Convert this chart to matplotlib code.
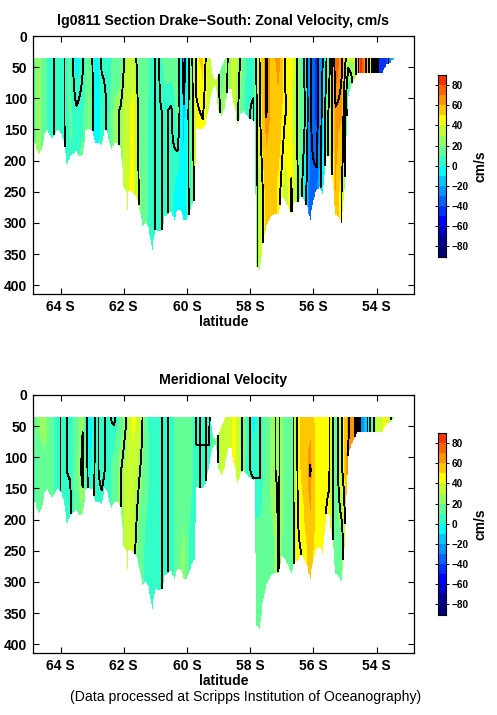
import numpy as np
import matplotlib
matplotlib.use("Agg")
import matplotlib.pyplot as plt
from matplotlib.colors import ListedColormap, BoundaryNorm

plt.rcParams['font.family'] = ['Liberation Sans', 'DejaVu Sans']

W, H = 497, 715

title_top = "lg0811 Section Drake\u2212South: Zonal Velocity, cm/s"
title_bottom = "Meridional Velocity"
footer = "(Data processed at Scripps Institution of Oceanography)"
x_ticks = [64, 62, 60, 58, 56, 54]
x_labels = ["64 S", "62 S", "60 S", "58 S", "56 S", "54 S"]
y_ticks = [0, 50, 100, 150, 200, 250, 300, 350, 400]
cb_ticks = [-80, -60, -40, -20, 0, 20, 40, 60, 80]
cb_labels = ["\u221280", "\u221260", "\u221240", "\u221220", "0", "20", "40", "60", "80"]

# bottom of the sampled section (depth, m) at every 0.1 degree
bottom_lat = np.round(np.linspace(64.9, 53.5, 115), 1)
bottom_depth = np.array([
    168, 173, 189, 184, 156, 151, 165, 160, 151, 154,
    167, 205, 194, 188, 185, 194, 191, 151, 149, 151,
    172, 170, 175, 149, 158, 183, 172, 170, 178, 242,
    253, 247, 253, 258, 279, 306, 298, 311, 343, 311,
    314, 311, 290, 285, 282, 295, 280, 279, 295, 295,
    279, 265, 147, 149, 149, 140, 112, 85, 80, 119,
    129, 113, 85, 85, 113, 141, 125, 120, 129, 132,
    137, 370, 375, 333, 306, 295, 287, 285, 285, 258,
    263, 274, 285, 267, 267, 256, 262, 274, 295, 263,
    247, 242, 256, 190, 193, 231, 287, 290, 303, 226,
    97, 80, 70, 58, 58, 58, 58, 58, 58, 58, 58, 58, 46, 44, 38], float)
# sharp steps in the bottom
step_lat = [59.73, 59.72, 57.83, 57.82]
step_depth = [265, 147, 137, 370]
# thin deep spikes
spike_lat = [64.77, 62.97, 61.88, 60.82]
spike_depth = [278, 205, 278, 345]
# notch of missing shallow data
notch_lat = [59.25, 59.2, 59.1, 59.0, 58.9, 58.8]
notch_top = [36, 60, 72, 62, 50, 36]
surface_depth = 36

# stations every 0.2 degree
station_lat = np.round(np.linspace(64.9, 53.5, 58), 1)
level_depth = [40, 120, 250]

zonal_40 = [16, 24, 14, 6, 4, 4, 12, -4, 4, 18,
            -6, 6, 6, 12, 14, 34, 34, 16, 14, 6,
            4, 14, 14, 12, -22, 12, 48, 52, 36, 34,
            14, 26, 34, 24, 6, 8, 46, 66, 56, 64,
            44, 44, 24, 4, -34, -42, -14, 20, 76, 66,
            30, 30, 86, 60, 10, -50, -44, -20]
zonal_120 = [14, 24, 14, 6, 4, 4, 12, 6, 8, 24,
             -6, 2, 6, 22, 26, 36, 44, 18, 12, 6,
             4, 6, 4, 14, -14, 12, 44, 46, 36, 34,
             22, 26, 36, 18, 6, 4, 44, 66, 56, 56,
             46, 40, 22, 12, -34, -42, -8, 30, 64, 62,
             -4, 30, 86, 60, 10, -50, -44, -20]
zonal_250 = [12, 24, 14, 6, 4, 4, 8, 12, 14, 14,
             -4, 6, 6, 22, 26, 38, 44, 22, 12, 6,
             4, 6, 4, -4, -4, 8, 36, 36, 36, 34,
             22, 26, 36, 18, 6, 4, 36, 54, 54, 48,
             36, 46, 26, -4, -34, -32, -4, 30, 60, 44,
             -4, 30, 86, 60, 10, -50, -44, -20]

merid_40 = [6, 22, 24, 14, 6, 4, 6, 16, 24, -6,
            6, 4, 6, 4, 14, 26, 44, 36, 12, 6,
            6, 4, 6, 14, 14, 14, 4, 6, 4, 18,
            34, 34, 44, 28, 10, -2, 4, 14, 24, 26,
            18, 14, 46, 54, 56, 46, 46, 46, 14, 44,
            64, 70, -25, -15, 24, 36, 44, 20]
merid_120 = [6, 14, 18, 14, 6, 4, 6, 16, 28, -2,
             6, 4, 6, 14, 24, 34, 36, 26, 14, 6,
             6, 4, 6, 14, 12, 14, 6, 4, 6, 18,
             34, 34, 44, 32, 6, 4, 4, 14, 24, 26,
             18, 14, 46, 54, 66, 46, 46, 46, 14, 44,
             66, 70, -25, -15, 24, 36, 44, 20]
merid_250 = [6, 14, 14, 12, 6, 4, -2, 16, 14, 6,
             6, 8, 8, 14, 26, 34, 30, 14, 8, 6,
             6, 4, 6, 14, 24, 6, 6, 4, 6, 18,
             34, 34, 44, 32, 6, 14, 14, 14, 18, 26,
             16, 14, 44, 46, 54, 46, 46, 42, 14, 14,
             66, 70, -25, -15, 24, 36, 44, 20]

level_edges = np.arange(-90, 91, 10)
contour_levels = [-75, -55, -35, -15, 5, 25, 45, 65]
band_colors = [(0, 0, 120), (0, 0, 150), (0, 0, 200), (0, 0, 255), (0, 50, 255), (0, 100, 255),
               (0, 150, 255), (0, 200, 255), (0, 255, 255), (50, 255, 200), (100, 255, 150),
               (150, 255, 100), (200, 255, 50), (255, 255, 0), (255, 200, 0), (255, 150, 0),
               (255, 100, 0), (255, 50, 0)]
cmap = ListedColormap([tuple(c / 255 for c in col) for col in band_colors])
norm = BoundaryNorm(level_edges, cmap.N)

# drawing grid
grid_lat = np.arange(64.9, 53.44, -0.025)
grid_depth = np.arange(36, 380, 2.0)
order = np.argsort(np.r_[bottom_lat, step_lat])
bl = np.r_[bottom_lat, step_lat][order]
bd = np.r_[bottom_depth, step_depth][order]
col_bottom = np.interp(grid_lat, bl, bd)
for la, d in zip(spike_lat, spike_depth):
    col_bottom[np.argmin(np.abs(grid_lat - la))] = d
col_top = np.interp(grid_lat, notch_lat[::-1], notch_top[::-1],
                    left=surface_depth, right=surface_depth)


def field(rows):
    at_levels = np.array([np.interp(grid_lat, station_lat[::-1], np.asarray(r, float)[::-1]) for r in rows])
    z = np.array([np.interp(grid_depth, level_depth, at_levels[:, i]) for i in range(grid_lat.size)]).T
    mask = (grid_depth[:, None] > col_bottom[None, :]) | (grid_depth[:, None] < col_top[None, :])
    return np.ma.array(z, mask=mask)


def axes_px(left, top, right, bottom):
    return fig.add_axes([left / W, 1 - bottom / H, (right - left) / W, (bottom - top) / H])


def section(box, rows, title):
    ax = axes_px(*box)
    z = field(rows)
    ax.pcolormesh(grid_lat, grid_depth, z, cmap=cmap, norm=norm, shading='nearest', antialiased=False)
    ax.contour(grid_lat, grid_depth, z, levels=contour_levels, colors='k', linewidths=0.65,
               linestyles='solid', antialiased=False)
    ax.set_xlim(64.886, 52.82)
    ax.set_ylim(414, 0)
    ax.set_xticks(x_ticks)
    ax.set_xticklabels(x_labels, fontweight='bold', fontsize=10)
    ax.set_yticks(y_ticks)
    ax.set_yticklabels([str(v) for v in y_ticks], fontweight='bold', fontsize=10)
    ax.tick_params(direction='in', length=4, width=0.8, top=True, right=True, pad=4)
    ax.set_xlabel("latitude", fontweight='bold', fontsize=10, labelpad=1)
    ax.set_title(title, fontweight='bold', fontsize=10.2, pad=8)
    for s in ax.spines.values():
        s.set_linewidth(0.9)
    return ax


def colorbar(box):
    cax = axes_px(*box)
    cax.pcolormesh([0, 1], level_edges, np.array(level_edges[:-1] + 5)[:, None], cmap=cmap, norm=norm)
    cax.set_xticks([])
    cax.set_yticks(cb_ticks)
    cax.set_yticklabels(cb_labels, fontweight='bold', fontsize=7.2)
    cax.tick_params(axis='y', direction='out', length=2.5, width=0.7, left=True, right=True,
                    labelleft=False, labelright=True, pad=2)
    cax.set_ylim(-90, 90)
    cax.set_ylabel("cm/s", fontweight='bold', fontsize=10, labelpad=3)
    cax.yaxis.set_label_position('right')


fig = plt.figure(figsize=(W / 100, H / 100), dpi=100, facecolor='white')
section((32.5, 36, 414, 294), [zonal_40, zonal_120, zonal_250], title_top)
section((32.5, 395, 414, 653), [merid_40, merid_120, merid_250], title_bottom)
colorbar((437.5, 75, 445.5, 256.5))
colorbar((437.5, 433, 445.5, 614.5))
fig.text(246 / W, 1 - 697 / H, footer, ha='center', va='center', fontsize=10.05)
fig.savefig("out.png", dpi=100, facecolor='white')
